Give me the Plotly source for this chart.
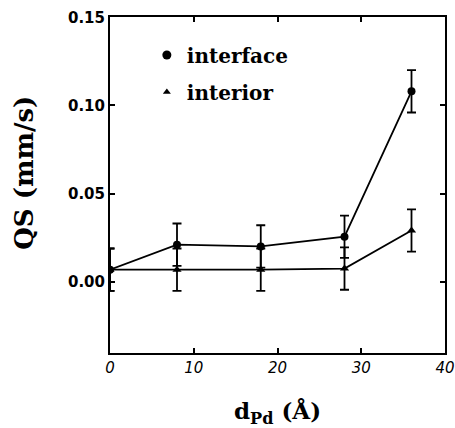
import plotly.graph_objects as go

d_pd = [0, 8, 18, 28, 36]
qs_interface = [0.0068, 0.021, 0.020, 0.0255, 0.108]
err_interface = [0.012, 0.012, 0.012, 0.012, 0.012]
d_pd_int = [0, 8, 18, 28, 36]
qs_interior = [0.0068, 0.0068, 0.0068, 0.0074, 0.029]
err_interior = [0.012, 0.012, 0.012, 0.012, 0.012]

x_ticks = [0, 10, 20, 30, 40]
y_ticks = [0.00, 0.05, 0.10, 0.15]
y_ticklabels = ["0.00", "0.05", "0.10", "0.15"]

SERIF = "DejaVu Serif"

fig = go.Figure()
fig.add_trace(go.Scatter(
    x=d_pd, y=qs_interface, mode="lines+markers", cliponaxis=True,
    line=dict(color="black", width=1.8),
    marker=dict(symbol="circle", size=8, color="black"),
    error_y=dict(type="data", array=err_interface, color="black", thickness=1.8, width=4.5),
    showlegend=False))
fig.add_trace(go.Scatter(
    x=d_pd_int, y=qs_interior, mode="lines+markers", cliponaxis=True,
    line=dict(color="black", width=1.8),
    marker=dict(symbol="triangle-up", size=8, color="black"),
    error_y=dict(type="data", array=err_interior, color="black", thickness=1.8, width=4.5),
    showlegend=False))
# legend-only entries (markers only)
fig.add_trace(go.Scatter(x=[None], y=[None], mode="markers", name="interface",
                         legendgroup="a",
                         marker=dict(symbol="circle", size=9, color="black")))
fig.add_trace(go.Scatter(x=[None], y=[None], mode="markers", name="interior",
                         legendgroup="b",
                         marker=dict(symbol="triangle-up", size=7, color="black")))

axis_common = dict(showline=True, linecolor="black", linewidth=2, mirror="ticks",
                   ticks="inside", ticklen=5, tickwidth=1.5, tickcolor="black",
                   showgrid=False, zeroline=False, automargin=False)

fig.update_layout(
    width=455, height=428,
    margin=dict(l=110, r=10, t=17, b=75),
    paper_bgcolor="white", plot_bgcolor="white",
    xaxis=dict(range=[0, 40], tickvals=x_ticks,
               tickfont=dict(family="DejaVu Sans", size=15, color="black", style="italic"),
               title=dict(text="d<sub>Pd</sub> (Å)",
                          font=dict(family=SERIF, size=23, color="black", weight="bold"),
                          standoff=30),
               **axis_common),
    yaxis=dict(range=[-0.0405, 0.1502], tickvals=y_ticks, ticktext=y_ticklabels,
               tickfont=dict(family="DejaVu Sans", size=15, color="black", weight="bold"),
               **axis_common),
    annotations=[dict(text="QS (mm/s)", textangle=-90, showarrow=False,
                      xref="paper", yref="paper", x=-0.255, y=0.535,
                      xanchor="center", yanchor="middle",
                      font=dict(family=SERIF, size=26, color="black", weight="bold"))],
    legend=dict(x=0.11, y=0.945, xanchor="left", yanchor="top",
                bgcolor="rgba(0,0,0,0)", borderwidth=0,
                font=dict(family=SERIF, size=20, color="black", weight="bold"),
                itemwidth=30, tracegroupgap=8),
)

fig.write_html("out.html")
